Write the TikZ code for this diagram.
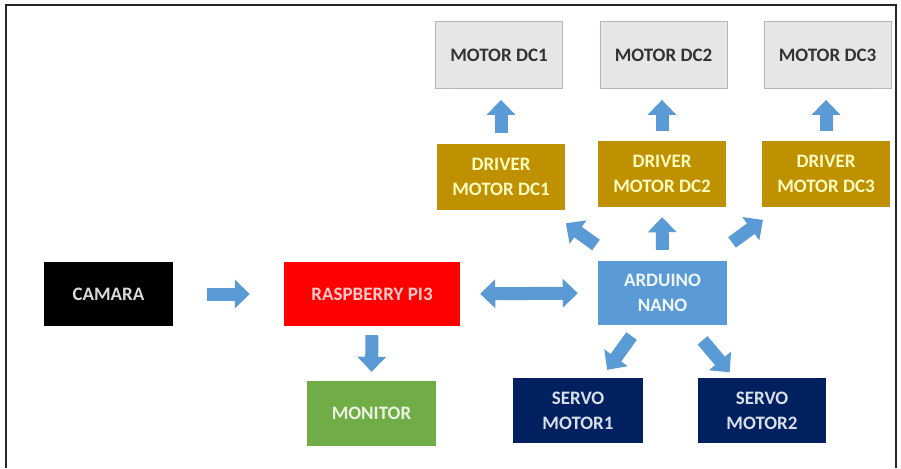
\documentclass[tikz,border=0pt]{standalone}
\usepackage{fontspec}
\setmainfont{Carlito}
\usetikzlibrary{arrows.meta}
\definecolor{arr}{HTML}{5B9BD5}
\definecolor{gbox}{HTML}{E7E6E6}
\definecolor{gline}{HTML}{AEB6BF}
\definecolor{gold}{HTML}{BF9000}
\definecolor{navy}{HTML}{002060}
\definecolor{green}{HTML}{70AD47}
\tikzset{
  blk/.style={rectangle, inner sep=0pt, align=center, font=\fontsize{19}{25}\selectfont\bfseries},
  motor/.style={blk, fill=gbox, draw=gline, line width=0.8pt, text=black!80, minimum width=127pt, minimum height=67pt},
  driver/.style={blk, fill=gold, text={yellow!25}, minimum width=128pt, minimum height=66pt},
  barrow/.style={draw=arr, line width=13pt, -{Triangle[width=28pt,length=15pt]}, fill=arr},
  darrow/.style={draw=arr, line width=13pt, {Triangle[width=28pt,length=15pt]}-{Triangle[width=28pt,length=15pt]}}
}
\begin{document}
\begin{tikzpicture}[x=1pt,y=-1pt]
\useasboundingbox (0,0) rectangle (901,468);
\fill[white] (0,0) rectangle (901,468);
\draw[line width=1.6pt, black!85] (6,468) -- (6,5) -- (896,5) -- (896,468);

\node[motor] (m1) at (499,55) {MOTOR DC1};
\node[motor] (m2) at (663.5,55) {MOTOR DC2};
\node[motor] (m3) at (827.5,55) {MOTOR DC3};

\node[driver] (d1) at (501,176.5) {DRIVER\\MOTOR DC1};
\node[driver] (d2) at (662,174) {DRIVER\\MOTOR DC2};
\node[driver] (d3) at (826,174) {DRIVER\\MOTOR DC3};

\node[blk, fill=black, text=black!15, minimum width=129pt, minimum height=64pt] (cam) at (108.5,294) {CAMARA};
\node[blk, fill=red, text={red!20}, minimum width=176pt, minimum height=64pt] (rpi) at (372,294) {RASPBERRY PI3};
\node[blk, fill=green, text={green!15}, minimum width=129pt, minimum height=65pt] (mon) at (371.5,413.5) {MONITOR};
\node[blk, fill=arr, text={white!90!arr}, minimum width=129pt, minimum height=64pt] (ard) at (662.5,293) {ARDUINO\\NANO};
\node[blk, fill=navy, text={white!85!navy}, minimum width=130pt, minimum height=65pt] (s1) at (578,410.5) {SERVO\\MOTOR1};
\node[blk, fill=navy, text={white!85!navy}, minimum width=128pt, minimum height=65pt] (s2) at (762,410.5) {SERVO\\MOTOR2};

% arrows drivers -> motors
\draw[barrow, shorten <=10pt, shorten >=11pt] (d1) -- (d1 |- m1.south);
\draw[barrow, shorten <=10pt, shorten >=11pt] (d2.north) -- (m2.south -| d2.north);
\draw[barrow, shorten <=10pt, shorten >=11pt] (d3.north) -- (m3.south -| d3.north);

% camara -> raspberry
\draw[barrow, shorten <=34pt, shorten >=34pt] (cam.east) -- (rpi.west);
% raspberry -> monitor
\draw[barrow, shorten <=9pt, shorten >=9pt] (rpi.south) -- (mon.north);
% raspberry <-> arduino
\draw[darrow, shorten <=20pt, shorten >=20pt] (rpi.east) -- (ard.west);

% arduino -> drivers
\draw[barrow, shorten <=11pt, shorten >=10pt] (ard.north) -- (d2.south);
\draw[barrow, shorten <=82pt, shorten >=80pt] (ard.center) -- (d1.center);
\draw[barrow, shorten <=86pt, shorten >=78pt] (ard.center) -- (d3.center);
% arduino -> servos
\draw[barrow, shorten <=53pt, shorten >=50pt] (ard.center) -- (s1.center);
\draw[barrow, shorten <=62pt, shorten >=50pt] (ard.center) -- (s2.center);
\end{tikzpicture}
\end{document}
